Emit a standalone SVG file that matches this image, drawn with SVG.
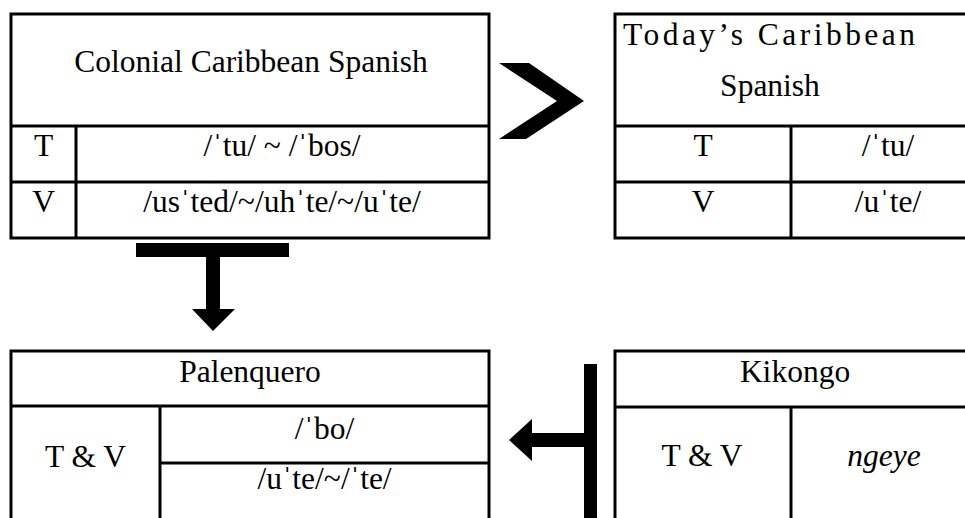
<svg xmlns="http://www.w3.org/2000/svg" width="965" height="518" viewBox="0 0 965 518">
  <style>
    .cell { fill: #fff; stroke: #000; stroke-width: 3; }
    .rule { stroke: #000; stroke-width: 3; fill: none; }
    .t { font-family: "Liberation Serif", "DejaVu Serif", serif; font-size: 31.5px; fill: #000; text-anchor: middle; }
    .it { font-style: italic; }
    .arrow { fill: #000; stroke: none; }
  </style>
  <rect width="965" height="518" fill="#fff"/>

  <!-- Colonial Caribbean Spanish -->
  <g id="colonial">
    <rect class="cell" x="11" y="14" width="478" height="224"/>
    <line class="rule" x1="11" y1="126" x2="489" y2="126"/>
    <line class="rule" x1="11" y1="182" x2="489" y2="182"/>
    <line class="rule" x1="76" y1="126" x2="76" y2="238"/>
    <text class="t" x="251" y="72">Colonial Caribbean Spanish</text>
    <text class="t" x="43.5" y="156">T</text>
    <text class="t" x="282" y="156">/ˈtu/ ~ /ˈbos/</text>
    <text class="t" x="43.5" y="212">V</text>
    <text class="t" x="282" y="212">/usˈted/~/uhˈte/~/uˈte/</text>
  </g>

  <!-- Today's Caribbean Spanish -->
  <g id="today">
    <rect class="cell" x="615" y="14" width="370" height="224"/>
    <line class="rule" x1="615" y1="126" x2="985" y2="126"/>
    <line class="rule" x1="615" y1="182" x2="985" y2="182"/>
    <line class="rule" x1="791" y1="126" x2="791" y2="238"/>
    <text class="t" x="769" y="45" textLength="292" lengthAdjust="spacing">Today’s Caribbean</text>
    <text class="t" x="770" y="96">Spanish</text>
    <text class="t" x="703" y="156">T</text>
    <text class="t" x="888" y="156">/ˈtu/</text>
    <text class="t" x="703" y="212">V</text>
    <text class="t" x="888" y="212">/uˈte/</text>
  </g>

  <!-- Palenquero -->
  <g id="palenquero">
    <rect class="cell" x="11" y="351" width="478" height="180"/>
    <line class="rule" x1="11" y1="406" x2="489" y2="406"/>
    <line class="rule" x1="160" y1="406" x2="160" y2="531"/>
    <line class="rule" x1="160" y1="463" x2="489" y2="463"/>
    <text class="t" x="250" y="382">Palenquero</text>
    <text class="t" x="85.5" y="467">T &amp; V</text>
    <text class="t" x="324.5" y="439">/ˈbo/</text>
    <text class="t" x="324.5" y="489">/uˈte/~/ˈte/</text>
  </g>

  <!-- Kikongo -->
  <g id="kikongo">
    <rect class="cell" x="615" y="351" width="370" height="180"/>
    <line class="rule" x1="615" y1="407" x2="985" y2="407"/>
    <line class="rule" x1="791" y1="407" x2="791" y2="531"/>
    <text class="t" x="795" y="382">Kikongo</text>
    <text class="t" x="702" y="466">T &amp; V</text>
    <text class="t it" x="884" y="466">ngeye</text>
  </g>

  <!-- block arrows between the tables -->
  <g id="connectors">
    <polygon class="arrow" points="499,63 529,63 584,101 526,139 499,139 557,101"/>
    <polygon class="arrow" points="136,243 289,243 289,257 220,257 220,309 235,309 213,331 192,309 206,309 206,257 136,257"/>
    <polygon class="arrow" points="584,364 597,364 597,518 584,518 584,447 532,447 532,461 509,440 532,419 532,433 584,433"/>
  </g>
</svg>
